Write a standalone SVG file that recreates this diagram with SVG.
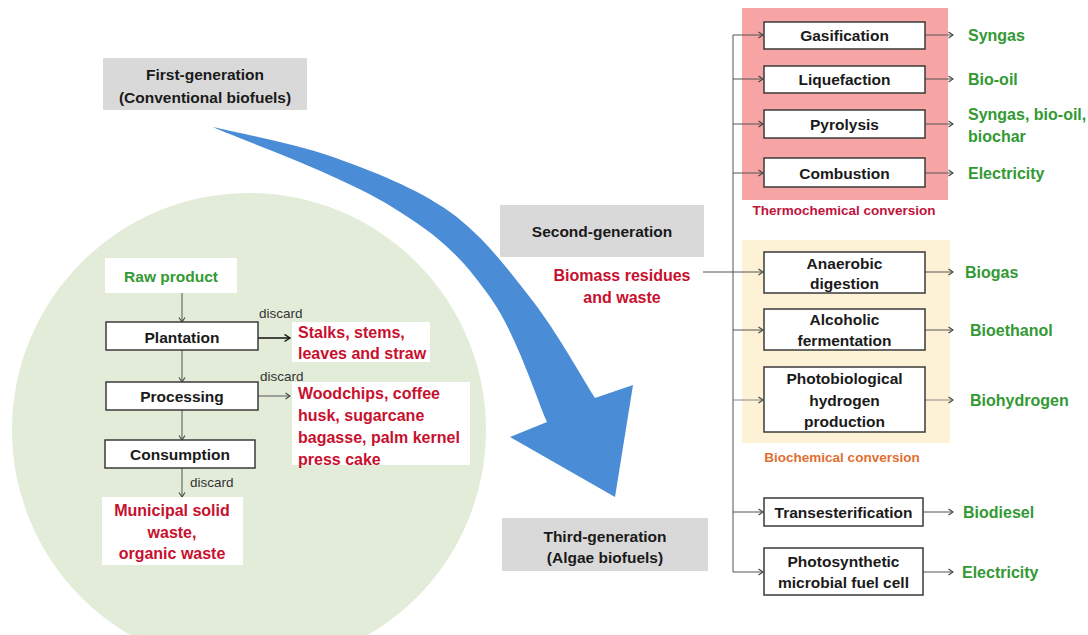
<svg xmlns="http://www.w3.org/2000/svg" width="1088" height="635" viewBox="0 0 1088 635">
<defs>
<marker id="ah" markerWidth="8" markerHeight="8" refX="6" refY="4" orient="auto" markerUnits="userSpaceOnUse"><path d="M1.5,1 L6,4 L1.5,7" fill="none" stroke="#444" stroke-width="1.1"/></marker>
<marker id="ahb" markerWidth="9" markerHeight="9" refX="7" refY="4.5" orient="auto" markerUnits="userSpaceOnUse"><path d="M1.5,1 L7,4.5 L1.5,8" fill="none" stroke="#111" stroke-width="1.4"/></marker>
<style>
text{font-family:"Liberation Sans",Arial,sans-serif;dominant-baseline:central}
.node{fill:#fff;stroke:#3a3a3a;stroke-width:1.5}
.plain{fill:#fff}
.gen{fill:#d9d9d9}
.lbl{font-size:15.5px;font-weight:bold;fill:#1a1a1a;text-anchor:middle}
.out{font-size:16px;font-weight:bold;fill:#339933}
.red{font-size:16px;font-weight:bold;fill:#c8102e}
.small{font-size:13.5px;fill:#333}
.conn{stroke:#555;stroke-width:1;fill:none;marker-end:url(#ah)}
.connb{stroke:#111;stroke-width:1.5;fill:none;marker-end:url(#ahb)}
.line{stroke:#555;stroke-width:1;fill:none}
</style>
</defs>
<rect width="1088" height="635" fill="#fff"/>

<g id="first-gen-area">
<circle cx="249" cy="430" r="237" fill="#e3ecd9"/>
</g>

<g id="generation-arrow">
<path d="M213,127 C233,132 293.5,142.8 333,157 C372.5,171.2 416.8,188.2 450,212 C483.2,235.8 507.8,269 532,300 C556.2,331 584.5,381.7 595,398 L633,385 L615,497 L510,437 L547,422 C537.8,401.7 516.5,335 492,300 C467.5,265 446.5,240.8 400,212 C350,178 244.2,141.2 213,127 Z" fill="#4a8cd6"/>
</g>

<g id="thermochemical-group">
<rect x="742" y="8" width="206" height="192" fill="#f7a4a4"/>
<text x="844" y="210" style="font-size:13.5px;font-weight:bold;fill:#c0143c;text-anchor:middle">Thermochemical conversion</text>
</g>
<g id="biochemical-group">
<rect x="742" y="240" width="208" height="203" fill="#fdf1d6"/>
<text x="842" y="457" style="font-size:13.5px;font-weight:bold;fill:#e07030;text-anchor:middle">Biochemical conversion</text>
</g>

<g id="connectors">
<line class="conn" x1="182" y1="293" x2="182" y2="322"/>
<line class="connb" x1="258" y1="338" x2="290" y2="338"/>
<line class="conn" x1="182" y1="350" x2="182" y2="382"/>
<line class="conn" x1="258" y1="396" x2="290" y2="396"/>
<line class="conn" x1="182" y1="410" x2="182" y2="440"/>
<line class="conn" x1="182" y1="468" x2="182" y2="497"/>
<line class="line" x1="733" y1="35" x2="733" y2="572"/>
<line class="conn" x1="703" y1="272" x2="763" y2="272"/>
<line class="conn" x1="733" y1="35" x2="763" y2="35"/>
<line class="conn" x1="733" y1="79" x2="763" y2="79"/>
<line class="conn" x1="733" y1="124" x2="763" y2="124"/>
<line class="conn" x1="733" y1="173" x2="763" y2="173"/>
<line class="conn" x1="733" y1="330" x2="763" y2="330"/>
<line class="conn" x1="733" y1="400" x2="763" y2="400" style="stroke:#888"/>
<line class="conn" x1="733" y1="512" x2="763" y2="512"/>
<line class="conn" x1="733" y1="572" x2="763" y2="572"/>
<line class="conn" x1="925" y1="35" x2="953" y2="35"/>
<line class="conn" x1="925" y1="79" x2="953" y2="79"/>
<line class="conn" x1="925" y1="124" x2="953" y2="124"/>
<line class="conn" x1="925" y1="173" x2="953" y2="173"/>
<line class="conn" x1="925" y1="272" x2="953" y2="272"/>
<line class="conn" x1="925" y1="330" x2="953" y2="330"/>
<line class="conn" x1="925" y1="400" x2="953" y2="400" style="stroke:#888"/>
<line class="conn" x1="923" y1="512" x2="953" y2="512"/>
<line class="conn" x1="923" y1="572" x2="953" y2="572"/>
<text class="small" x="259" y="313">discard</text>
<text class="small" x="260" y="376">discard</text>
<text class="small" x="190" y="482">discard</text>
</g>

<g id="first-generation">
<rect class="gen" x="103" y="58" width="204" height="52"/>
<text class="lbl" x="205" y="74">First-generation</text>
<text class="lbl" x="205" y="97">(Conventional biofuels)</text>
</g>
<g id="second-generation">
<rect class="gen" x="500" y="205" width="204" height="52"/>
<text class="lbl" x="602" y="231">Second-generation</text>
</g>
<g id="biomass-residues">
<text class="red" x="622" y="275" text-anchor="middle">Biomass residues</text>
<text class="red" x="622" y="297" text-anchor="middle">and waste</text>
</g>
<g id="third-generation">
<rect class="gen" x="502" y="518" width="206" height="53"/>
<text class="lbl" x="605" y="536">Third-generation</text>
<text class="lbl" x="605" y="557">(Algae biofuels)</text>
</g>

<g id="raw-product">
<rect class="plain" x="105" y="258" width="132" height="35"/>
<text class="lbl" x="171" y="276" style="fill:#339933">Raw product</text>
</g>
<g id="plantation">
<rect class="node" x="106" y="322" width="152" height="28"/>
<text class="lbl" x="182" y="337">Plantation</text>
</g>
<g id="stalks">
<rect class="plain" x="292" y="322" width="138" height="40"/>
<text class="red" x="298" y="332">Stalks, stems,</text>
<text class="red" x="298" y="353">leaves and straw</text>
</g>
<g id="processing">
<rect class="node" x="106" y="382" width="152" height="28"/>
<text class="lbl" x="182" y="396">Processing</text>
</g>
<g id="woodchips">
<rect class="plain" x="292" y="382" width="178" height="83"/>
<text class="red" x="298" y="393">Woodchips, coffee</text>
<text class="red" x="298" y="415">husk, sugarcane</text>
<text class="red" x="298" y="437">bagasse, palm kernel</text>
<text class="red" x="298" y="459">press cake</text>
</g>
<g id="consumption">
<rect class="node" x="105" y="440" width="150" height="28"/>
<text class="lbl" x="180" y="454">Consumption</text>
</g>
<g id="municipal">
<rect class="plain" x="102" y="497" width="141" height="68"/>
<text class="red" x="172" y="510" text-anchor="middle">Municipal solid</text>
<text class="red" x="172" y="532" text-anchor="middle">waste,</text>
<text class="red" x="172" y="553" text-anchor="middle">organic waste</text>
</g>

<g id="gasification">
<rect class="node" x="764" y="22" width="161" height="27"/>
<text class="lbl" x="844.5" y="35">Gasification</text>
</g>
<g id="liquefaction">
<rect class="node" x="764" y="66" width="161" height="27"/>
<text class="lbl" x="844.5" y="79">Liquefaction</text>
</g>
<g id="pyrolysis">
<rect class="node" x="764" y="110" width="161" height="28"/>
<text class="lbl" x="844.5" y="124">Pyrolysis</text>
</g>
<g id="combustion">
<rect class="node" x="764" y="158" width="161" height="29"/>
<text class="lbl" x="844.5" y="173">Combustion</text>
</g>
<g id="anaerobic">
<rect class="node" x="764" y="252" width="161" height="41"/>
<text class="lbl" x="844.5" y="263">Anaerobic</text>
<text class="lbl" x="844.5" y="283">digestion</text>
</g>
<g id="alcoholic">
<rect class="node" x="764" y="309" width="161" height="41"/>
<text class="lbl" x="844.5" y="319">Alcoholic</text>
<text class="lbl" x="844.5" y="340">fermentation</text>
</g>
<g id="photobiological">
<rect class="node" x="764" y="367" width="161" height="65"/>
<text class="lbl" x="844.5" y="378">Photobiological</text>
<text class="lbl" x="844.5" y="400">hydrogen</text>
<text class="lbl" x="844.5" y="421">production</text>
</g>
<g id="transesterification">
<rect class="node" x="764" y="498" width="159" height="28"/>
<text class="lbl" x="843.5" y="512">Transesterification</text>
</g>
<g id="photosynthetic">
<rect class="node" x="764" y="548" width="159" height="47"/>
<text class="lbl" x="843.5" y="561">Photosynthetic</text>
<text class="lbl" x="843.5" y="582">microbial fuel cell</text>
</g>

<g id="outputs">
<text class="out" x="968" y="35">Syngas</text>
<text class="out" x="968" y="79">Bio-oil</text>
<text class="out" x="968" y="114">Syngas, bio-oil,</text>
<text class="out" x="968" y="136">biochar</text>
<text class="out" x="968" y="173">Electricity</text>
<text class="out" x="965" y="272">Biogas</text>
<text class="out" x="970" y="330">Bioethanol</text>
<text class="out" x="970" y="400">Biohydrogen</text>
<text class="out" x="963" y="512">Biodiesel</text>
<text class="out" x="962" y="572">Electricity</text>
</g>
</svg>
